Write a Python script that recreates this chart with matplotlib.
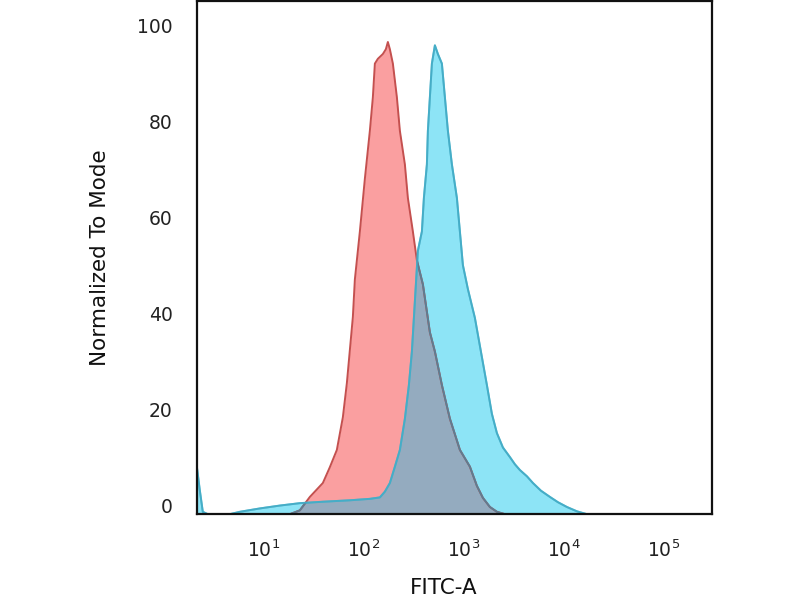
import numpy as np
import matplotlib.pyplot as plt
import matplotlib.transforms as mtransforms

# FITC-A position as log10 exponent, height as % of mode
red_x = [0.33, 1.26, 1.36, 1.46, 1.59, 1.66, 1.73, 1.79, 1.83, 1.86, 1.89, 1.91, 1.94,
         1.96, 2.01, 2.06, 2.09, 2.11, 2.14, 2.19, 2.22, 2.24, 2.26, 2.29, 2.33, 2.36,
         2.41, 2.44, 2.49, 2.53, 2.59, 2.66, 2.71, 2.78, 2.86, 2.96, 3.06, 3.13, 3.19,
         3.26, 3.33, 3.41, 5.48]
red_y = [0, 0, 0.8, 3.6, 6.5, 9.8, 13.4, 20.2, 27.3, 34.2, 41.1, 48.9, 54.9,
         58.9, 69.9, 79.9, 86.9, 93.9, 94.9, 95.9, 96.9, 98.4, 96.9, 93.9, 86.9, 79.9,
         72.9, 65.9, 58.9, 52.9, 47.9, 37.9, 33.9, 26.9, 19.9, 13.4, 9.9, 5.9, 3.4,
         1.5, 0.5, 0, 0]

blue_x = [0.33, 0.36, 0.39, 0.44, 0.66, 0.76, 0.96, 1.16, 1.36, 1.59, 1.86, 2.06, 2.16,
          2.21, 2.26, 2.31, 2.36, 2.41, 2.45, 2.48, 2.50, 2.52, 2.54, 2.58, 2.60, 2.63,
          2.64, 2.66, 2.68, 2.71, 2.74, 2.78, 2.81, 2.84, 2.88, 2.93, 2.96, 2.99, 3.04,
          3.11, 3.17, 3.23, 3.28, 3.33, 3.39, 3.46, 3.51, 3.56, 3.63, 3.69, 3.77, 3.86,
          3.94, 4.03, 4.13, 4.23, 5.48]
blue_y = [10, 5, 0.5, 0, 0, 0.5, 1.2, 1.8, 2.3, 2.6, 2.9, 3.2, 3.5,
          4.7, 6.5, 9.9, 13.4, 19.9, 26.9, 33.9, 40.9, 47.9, 54.9, 58.9, 65.9, 72.9,
          79.9, 86.9, 93.9, 97.7, 95.9, 93.9, 86.9, 79.9, 72.9, 65.9, 58.9, 51.9, 46.9,
          40.9, 33.9, 26.9, 20.9, 16.9, 13.9, 11.9, 10.4, 9.2, 7.9, 6.5, 4.9, 3.6,
          2.5, 1.5, 0.6, 0, 0]

yticks = [0, 20, 40, 60, 80, 100]
xticks = [1, 2, 3, 4, 5]
xlabels = ["$10^{%d}$" % e for e in xticks]

fig = plt.figure(figsize=(8, 6), dpi=100)
ax = fig.add_axes([0.246, 0.143, 0.644, 0.855])

# histograms
ax.fill_between(red_x, red_y, 0, color="#fa9fa0", lw=0)
ax.plot(red_x, red_y, color="#c4504f", lw=1.4)
blue = ax.fill_between(blue_x, blue_y, 0, color="#8de4f6", lw=0)
ax.plot(blue_x, blue_y, color="#3fb3c9", lw=1.4)

# overlap region: red area clipped to the blue area
clip = blue.get_paths()[0]
over = ax.fill_between(red_x, red_y, 0, color="#94abbf", lw=0)
over.set_clip_path(clip, ax.transData)
ln, = ax.plot(red_x, red_y, color="#5d7d92", lw=1.4)
ln.set_clip_path(clip, ax.transData)
ax.plot(blue_x, blue_y, color="#4aa9c6", lw=1.4, alpha=0.6)

ax.set_xlim(0.33, 5.48)
ax.set_ylim(0, 106.9)

ax.set_yticks(yticks)
ax.set_yticklabels([str(v) for v in yticks])
ax.set_xticks(xticks)
ax.set_xticklabels(xlabels)
ax.tick_params(length=0, labelsize=13.5, colors="#222222")
ax.tick_params(axis="y", pad=17.5)
ax.tick_params(axis="x", pad=18)

# FlowJo-style labels sit a bit above their tick
off = mtransforms.ScaledTranslation(0, 9 / 100, fig.dpi_scale_trans)
for t in ax.get_yticklabels():
    t.set_transform(t.get_transform() + off)

for s in ax.spines.values():
    s.set_linewidth(1.6)
    s.set_color("#111111")

ax.set_xlabel("FITC-A", fontsize=15.5, color="#111111")
ax.xaxis.set_label_coords(0.48, -0.125)
ax.set_ylabel("Normalized To Mode", fontsize=15.5, color="#111111")
ax.yaxis.set_label_coords(-0.168, 0.5)

fig.savefig("out.png", dpi=100)
